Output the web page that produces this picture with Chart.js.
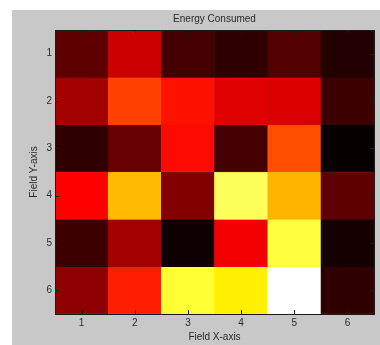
<!DOCTYPE html>
<html>
  <head>
    <meta charset="utf-8">
    <title>Energy Consumed</title>
    <style>
      body { margin: 0; background: #fff; }
      #wrap { position: absolute; left: 12px; top: 10px; width: 368px; height: 335px; background: #c8c8c8; }
    </style>
  </head>
  <body>
    <div id="wrap"><canvas id="heat" width="368" height="335"></canvas></div>
    <script src="https://cdn.jsdelivr.net/npm/chart.js@4/dist/chart.umd.min.js"></script>
    <script>
      // field grid, energy per cell (0 - 100)
      var colLabels = ['1', '2', '3', '4', '5', '6'];
      var rowLabels = ['1', '2', '3', '4', '5', '6'];
      var row1 = [14, 30, 10, 7, 12, 5];
      var row2 = [24, 47, 40, 33, 32, 9];
      var row3 = [7, 15, 39, 10, 49, 1];
      var row4 = [37.5, 65, 19, 84, 64, 14];
      var row5 = [9, 24, 2, 36, 81, 3];
      var row6 = [21, 42, 80, 73, 100, 7];
      var rows = [row1, row2, row3, row4, row5, row6];
      var cmin = 0, cmax = 100;

      // matlab "hot" colormap
      function hot(val){
        var v = (val - cmin) / (cmax - cmin);
        var clamp = function(x){ return Math.max(0, Math.min(1, x)); };
        var r = clamp(v / 0.375);
        var g = clamp((v - 0.375) / 0.375);
        var b = clamp((v - 0.75) / 0.25);
        return 'rgb(' + Math.round(r*255) + ',' + Math.round(g*255) + ',' + Math.round(b*255) + ')';
      }

      var datasets = [];
      for(var i=0;i<rows.length;i++){
        datasets.push({
          label: 'Row ' + rowLabels[i],
          data: colLabels.map(function(c){ return [i, i+1]; }),
          backgroundColor: rows[i].map(hot),
          borderColor: rows[i].map(hot),
          borderWidth: 0.5,
          borderSkipped: false,
          barPercentage: 1,
          categoryPercentage: 1,
          grouped: false
        });
      }

      // frame + inward ticks like matlab axes
      var boxPlugin = {
        id: 'box',
        afterDatasetsDraw: function(chart){
          var c = chart.ctx, a = chart.chartArea;
          var xs = chart.scales.x, ys = chart.scales.y;
          c.save();
          c.strokeStyle = '#1a1a1a';
          c.lineWidth = 1;
          c.beginPath();
          for(var i=0;i<colLabels.length;i++){
            var px = Math.round(xs.getPixelForTick(i)) + 0.5;
            c.moveTo(px, a.top); c.lineTo(px, a.top + 4);
            c.moveTo(px, a.bottom); c.lineTo(px, a.bottom - 4);
          }
          for(var j=0;j<rowLabels.length;j++){
            var py = Math.round(ys.getPixelForValue(j + 0.5)) + 0.5;
            c.moveTo(a.left, py); c.lineTo(a.left + 4, py);
            c.moveTo(a.right, py); c.lineTo(a.right - 4, py);
          }
          c.stroke();
          c.strokeRect(Math.round(a.left) + 0.5, Math.round(a.top) + 0.5, Math.round(a.right - a.left), Math.round(a.bottom - a.top));
          c.restore();
        }
      };

      var font = { family: '"Liberation Sans", Arial, sans-serif', size: 10 };

      new Chart(document.getElementById('heat'), {
        type: 'bar',
        data: { labels: colLabels, datasets: datasets },
        options: {
          responsive: false,
          animation: false,
          layout: { padding: { top: 0, right: 6, left: 16, bottom: 2 } },
          plugins: {
            legend: { display: false },
            tooltip: { enabled: false },
            title: {
              display: true,
              fullSize: false,
              text: 'Energy Consumed',
              color: '#2a2a2a',
              font: { family: font.family, size: 10, weight: 'normal' },
              padding: { top: 3, bottom: 5 }
            }
          },
          scales: {
            x: {
              offset: true,
              grid: { display: false, drawTicks: false },
              border: { display: false },
              ticks: { color: '#2a2a2a', font: font, padding: 3 },
              title: { display: true, text: 'Field X-axis', color: '#2a2a2a', font: font, padding: 0 },
              afterFit: function(s){ s.height = 29; }
            },
            y: {
              min: 0,
              max: 6,
              reverse: true,
              grid: { display: false, drawTicks: false },
              border: { display: false },
              afterBuildTicks: function(s){
                s.ticks = rowLabels.map(function(l, k){ return { value: k + 0.5 }; });
              },
              ticks: {
                color: '#2a2a2a',
                font: font,
                padding: 3,
                callback: function(v, k){ return rowLabels[k]; }
              },
              title: { display: true, text: 'Field Y-axis', color: '#2a2a2a', font: font, padding: 0 },
              afterFit: function(s){ s.width = 27; }
            }
          }
        },
        plugins: [boxPlugin]
      });
    </script>
  </body>
</html>
